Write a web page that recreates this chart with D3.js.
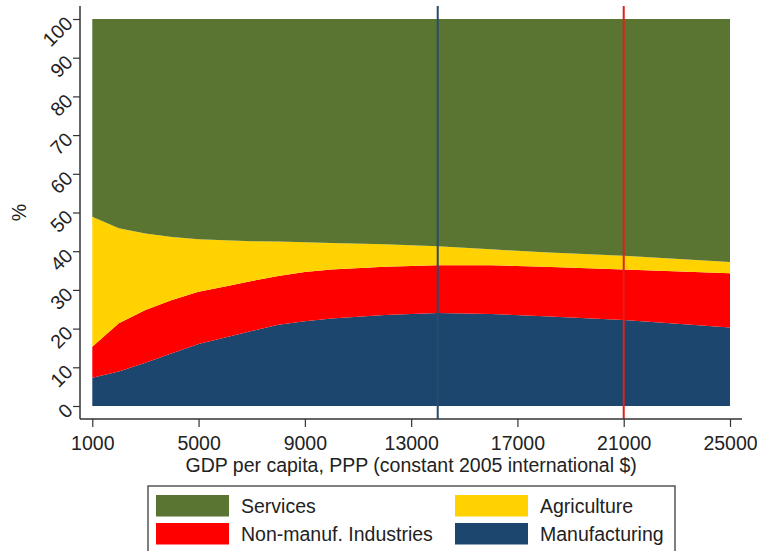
<!DOCTYPE html>
<html>
<head>
<meta charset="utf-8">
<script src="https://cdn.jsdelivr.net/npm/d3@7"></script>
<style>
  body { margin: 0; background: #fff; }
  text { font-family: "Liberation Sans", Arial, sans-serif; fill: #222; }
</style>
</head>
<body>
<div class="chart"></div>
<script>
// GDP per capita points and sector shares (%)
const gdp = [1000, 2000, 3000, 4000, 5000, 6000, 7000, 8000, 9000, 10000, 12000, 14000, 16000, 18000, 21000, 25000];
const manufacturing = [7.3, 8.9, 11.2, 13.6, 16.0, 17.7, 19.4, 21.0, 21.9, 22.6, 23.5, 24.0, 23.8, 23.2, 22.2, 20.3];
const nonManuf = [8.0, 12.5, 13.6, 13.8, 13.5, 13.2, 12.9, 12.6, 12.7, 12.7, 12.5, 12.4, 12.6, 12.8, 13.1, 14.0];
const agriculture = [33.6, 24.5, 19.8, 16.3, 13.6, 11.9, 10.3, 8.9, 7.7, 6.8, 5.8, 4.9, 4.1, 3.7, 3.5, 2.9];
const services = [51.1, 54.1, 55.4, 56.3, 56.9, 57.2, 57.4, 57.5, 57.7, 57.9, 58.2, 58.7, 59.5, 60.3, 61.2, 62.8];

const xTicks = [1000, 5000, 9000, 13000, 17000, 21000, 25000];
const yTicks = [0, 10, 20, 30, 40, 50, 60, 70, 80, 90, 100];
const markers = [14000, 21000];

const keys = ["manufacturing", "nonManuf", "agriculture", "services"];
const labels = {
    services: "Services",
    agriculture: "Agriculture",
    nonManuf: "Non-manuf. Industries",
    manufacturing: "Manufacturing"
};
const colors = {
    services: "#5a7532",
    agriculture: "#ffd200",
    nonManuf: "#ff0000",
    manufacturing: "#1c466e"
};
const markerColors = ["#2a4c6a", "#e0201a"];

const rows = gdp.map((g, i) => ({
    gdp: g,
    manufacturing: manufacturing[i],
    nonManuf: nonManuf[i],
    agriculture: agriculture[i],
    services: services[i]
}));

const width = 757;
const height = 551;
const plot = { left: 80, right: 742, top: 6, bottom: 419 };
const fontSize = "19.5px";

const svg = d3.select(".chart")
    .append("svg")
    .attr("width", width)
    .attr("height", height);

const x = d3.scaleLinear().domain([1000, 25000]).range([92.3, 730]);
const y = d3.scaleLinear().domain([0, 100]).range([406, 19]);

const stacked = d3.stack().keys(keys)(rows);

const area = d3.area()
    .x((d) => x(d.data.gdp))
    .y0((d) => y(d[0]))
    .y1((d) => y(d[1]));

svg.selectAll("path.layer")
    .data(stacked)
    .enter()
    .append("path")
    .attr("class", "layer")
    .attr("d", area)
    .attr("fill", (d) => colors[d.key]);

// vertical reference lines
svg.selectAll("line.marker")
    .data(markers)
    .enter()
    .append("line")
    .attr("class", "marker")
    .attr("x1", (d) => x(d))
    .attr("x2", (d) => x(d))
    .attr("y1", plot.top)
    .attr("y2", plot.bottom)
    .attr("stroke", (d, i) => markerColors[i])
    .attr("stroke-width", 2);

// x axis
const xAxis = d3.axisBottom(x)
    .tickValues(xTicks)
    .tickFormat(d3.format("d"))
    .tickSize(8)
    .tickSizeOuter(0)
    .tickPadding(9);

const gx = svg.append("g")
    .attr("id", "x-axis")
    .attr("transform", "translate(0," + plot.bottom + ")")
    .call(xAxis);
gx.select(".domain").remove();
gx.append("line")
    .attr("x1", plot.left)
    .attr("x2", plot.right)
    .attr("stroke", "#333")
    .attr("stroke-width", 1.5);
gx.selectAll(".tick line").attr("stroke", "#333").attr("stroke-width", 1.2);
gx.selectAll(".tick text")
    .style("font-size", fontSize)
    .attr("fill", "#222");

// y axis
const yAxis = d3.axisLeft(y)
    .tickValues(yTicks)
    .tickSize(7)
    .tickSizeOuter(0)
    .tickFormat("");

const gy = svg.append("g")
    .attr("id", "y-axis")
    .attr("transform", "translate(" + plot.left + ",0)")
    .call(yAxis);
gy.select(".domain").remove();
gy.append("line")
    .attr("y1", plot.top)
    .attr("y2", plot.bottom)
    .attr("stroke", "#333")
    .attr("stroke-width", 1.5);
gy.selectAll(".tick line").attr("stroke", "#333").attr("stroke-width", 1.2);

svg.selectAll("text.ylab")
    .data(yTicks)
    .enter()
    .append("text")
    .attr("class", "ylab")
    .attr("transform", (d) => "translate(69," + (y(d) + 1) + ") rotate(-45)")
    .attr("text-anchor", "end")
    .attr("dy", "0.35em")
    .style("font-size", fontSize)
    .text((d) => d);

// axis titles
svg.append("text")
    .attr("x", (x(1000) + x(25000)) / 2)
    .attr("y", 472)
    .attr("text-anchor", "middle")
    .style("font-size", fontSize)
    .text("GDP per capita, PPP (constant 2005 international $)");

svg.append("text")
    .attr("transform", "translate(26," + (y(50)) + ") rotate(-90)")
    .attr("text-anchor", "middle")
    .style("font-size", fontSize)
    .text("%");

// legend
const legend = svg.append("g").attr("id", "legend");
legend.append("rect")
    .attr("x", 148)
    .attr("y", 486)
    .attr("width", 527)
    .attr("height", 80)
    .attr("fill", "#fff")
    .attr("stroke", "#555")
    .attr("stroke-width", 1.5);

const legendOrder = ["services", "agriculture", "nonManuf", "manufacturing"];
const legendItems = legend.selectAll("g.item")
    .data(legendOrder)
    .enter()
    .append("g")
    .attr("class", "item")
    .attr("transform", (d, i) => "translate(" + (i % 2 === 0 ? 156 : 455) + "," + (i < 2 ? 495 : 523) + ")");

legendItems.append("rect")
    .attr("width", 73)
    .attr("height", 21.5)
    .attr("fill", (d) => colors[d]);

legendItems.append("text")
    .attr("x", 85)
    .attr("y", 18)
    .style("font-size", fontSize)
    .text((d) => labels[d]);
</script>
</body>
</html>
